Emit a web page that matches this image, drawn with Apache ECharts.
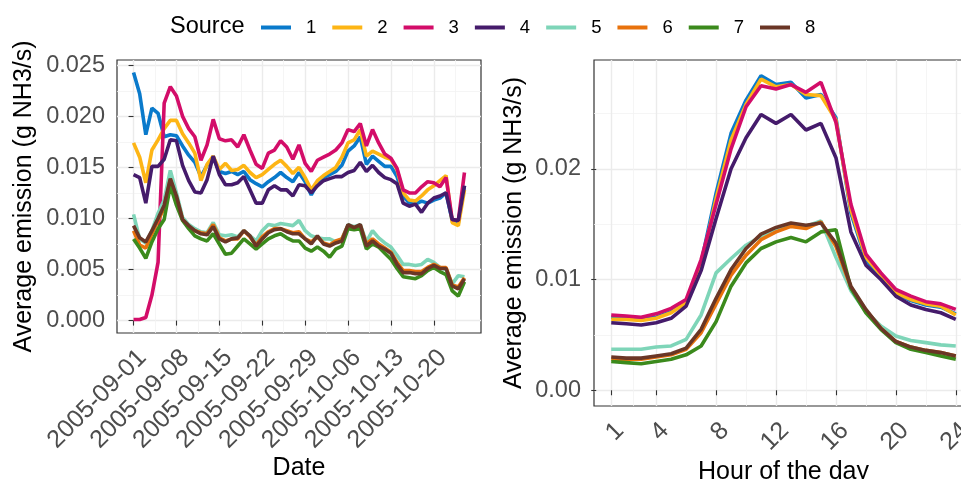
<!DOCTYPE html>
<html>
<head>
<meta charset="utf-8">
<script src="https://cdn.jsdelivr.net/npm/echarts@6/dist/echarts.min.js"></script>
<style>
  html, body { margin: 0; padding: 0; background: #ffffff; overflow: hidden; }
  #chart { width: 961px; height: 479px; }
</style>
</head>
<body>
<div id="chart"></div>
<script>
// ---- categories and tick labels ----
const dates = [
  '2005-09-01','2005-09-02','2005-09-03','2005-09-04','2005-09-05','2005-09-06','2005-09-07',
  '2005-09-08','2005-09-09','2005-09-10','2005-09-11','2005-09-12','2005-09-13','2005-09-14',
  '2005-09-15','2005-09-16','2005-09-17','2005-09-18','2005-09-19','2005-09-20','2005-09-21',
  '2005-09-22','2005-09-23','2005-09-24','2005-09-25','2005-09-26','2005-09-27','2005-09-28',
  '2005-09-29','2005-09-30','2005-10-01','2005-10-02','2005-10-03','2005-10-04','2005-10-05',
  '2005-10-06','2005-10-07','2005-10-08','2005-10-09','2005-10-10','2005-10-11','2005-10-12',
  '2005-10-13','2005-10-14','2005-10-15','2005-10-16','2005-10-17','2005-10-18','2005-10-19',
  '2005-10-20','2005-10-21','2005-10-22','2005-10-23','2005-10-24','2005-10-25'
];
const dateTicks = ['2005-09-01','2005-09-08','2005-09-15','2005-09-22','2005-09-29','2005-10-06','2005-10-13','2005-10-20'];
const dailyTicks = [0, 0.005, 0.010, 0.015, 0.020, 0.025];

const hours = [1,2,3,4,5,6,7,8,9,10,11,12,13,14,15,16,17,18,19,20,21,22,23,24];
const hourTicks = [1, 4, 8, 12, 16, 20, 24];
const hourlyTicks = [0, 0.01, 0.02];

const sources = ['1','2','3','4','5','6','7','8'];
const sourceColors = ['#0A7ACB','#FDB515','#D30D69','#451B6B','#7ED5B8','#E8720C','#3B8A1C','#6A3626'];

// ---- daily average emission (g NH3/s), one value per date ----
const daily1 = [0.0243,0.0222,0.0182,0.0208,0.0203,0.0180,0.0182,0.0181,0.0171,0.0162,0.0155,0.0141,0.0152,0.0160,
  0.0146,0.0144,0.0146,0.0143,0.0146,0.0138,0.0134,0.0131,0.0136,0.0140,0.0145,0.0140,0.0136,0.0145,
  0.0136,0.0123,0.0134,0.0140,0.0143,0.0146,0.0152,0.0166,0.0171,0.0180,0.0153,0.0161,0.0156,0.0151,
  0.0151,0.0141,0.0122,0.0115,0.0114,0.0117,0.0115,0.0118,0.0120,0.0125,0.0098,0.0096,0.0132];
const daily2 = [0.0174,0.0160,0.0135,0.0167,0.0177,0.0188,0.0196,0.0196,0.0183,0.0174,0.0164,0.0137,0.0153,0.0161,
  0.0148,0.0154,0.0147,0.0148,0.0152,0.0145,0.0140,0.0143,0.0148,0.0153,0.0157,0.0151,0.0144,0.0150,
  0.0140,0.0128,0.0137,0.0142,0.0146,0.0150,0.0160,0.0174,0.0177,0.0187,0.0161,0.0166,0.0163,0.0160,
  0.0158,0.0148,0.0125,0.0118,0.0117,0.0122,0.0128,0.0132,0.0137,0.0142,0.0096,0.0093,0.0128];
const daily3 = [0.0001,0.0001,0.0003,0.0025,0.0057,0.0213,0.0229,0.0220,0.0200,0.0188,0.0180,0.0157,0.0172,0.0197,
  0.0178,0.0176,0.0177,0.0170,0.0182,0.0167,0.0153,0.0149,0.0164,0.0167,0.0176,0.0170,0.0158,0.0172,
  0.0154,0.0146,0.0157,0.0160,0.0163,0.0167,0.0174,0.0187,0.0185,0.0193,0.0171,0.0187,0.0174,0.0163,
  0.0159,0.0149,0.0128,0.0125,0.0125,0.0131,0.0136,0.0135,0.0131,0.0140,0.0099,0.0098,0.0145];
const daily4 = [0.0143,0.0140,0.0115,0.0151,0.0151,0.0158,0.0177,0.0176,0.0152,0.0137,0.0126,0.0125,0.0138,0.0161,
  0.0143,0.0133,0.0133,0.0135,0.0141,0.0128,0.0115,0.0115,0.0128,0.0132,0.0128,0.0128,0.0122,0.0133,
  0.0132,0.0125,0.0132,0.0137,0.0139,0.0141,0.0141,0.0145,0.0147,0.0155,0.0146,0.0152,0.0145,0.0140,
  0.0138,0.0134,0.0115,0.0112,0.0114,0.0106,0.0115,0.0120,0.0122,0.0125,0.0099,0.0098,0.0132];
const daily5 = [0.0104,0.0080,0.0076,0.0088,0.0105,0.0118,0.0147,0.0125,0.0101,0.0094,0.0090,0.0087,0.0086,0.0096,
  0.0084,0.0083,0.0084,0.0082,0.0088,0.0083,0.0078,0.0088,0.0094,0.0093,0.0095,0.0094,0.0093,0.0098,
  0.0088,0.0083,0.0081,0.0080,0.0080,0.0077,0.0080,0.0094,0.0092,0.0094,0.0077,0.0088,0.0081,0.0076,
  0.0072,0.0064,0.0055,0.0055,0.0054,0.0055,0.0060,0.0057,0.0052,0.0050,0.0036,0.0044,0.0043];
const daily6 = [0.0088,0.0074,0.0071,0.0085,0.0098,0.0110,0.0138,0.0120,0.0099,0.0092,0.0088,0.0086,0.0085,0.0094,
  0.0081,0.0078,0.0080,0.0080,0.0088,0.0082,0.0074,0.0082,0.0087,0.0090,0.0090,0.0088,0.0086,0.0087,
  0.0080,0.0077,0.0082,0.0076,0.0074,0.0078,0.0080,0.0093,0.0091,0.0093,0.0075,0.0080,0.0075,0.0071,
  0.0067,0.0057,0.0049,0.0049,0.0048,0.0048,0.0052,0.0055,0.0052,0.0052,0.0035,0.0033,0.0042];
const daily7 = [0.0080,0.0071,0.0061,0.0077,0.0090,0.0099,0.0132,0.0113,0.0098,0.0090,0.0083,0.0080,0.0078,0.0085,
  0.0075,0.0065,0.0066,0.0073,0.0080,0.0075,0.0070,0.0075,0.0080,0.0083,0.0085,0.0081,0.0078,0.0078,
  0.0071,0.0068,0.0072,0.0068,0.0062,0.0070,0.0073,0.0090,0.0089,0.0090,0.0070,0.0075,0.0072,0.0066,
  0.0060,0.0051,0.0043,0.0042,0.0041,0.0044,0.0049,0.0052,0.0048,0.0045,0.0029,0.0024,0.0038];
const daily8 = [0.0093,0.0081,0.0077,0.0088,0.0100,0.0113,0.0139,0.0122,0.0099,0.0093,0.0088,0.0085,0.0084,0.0092,
  0.0080,0.0077,0.0080,0.0081,0.0088,0.0083,0.0073,0.0080,0.0086,0.0089,0.0090,0.0087,0.0085,0.0085,
  0.0080,0.0075,0.0083,0.0075,0.0073,0.0076,0.0078,0.0094,0.0091,0.0094,0.0073,0.0078,0.0073,0.0070,
  0.0066,0.0055,0.0047,0.0047,0.0046,0.0046,0.0051,0.0054,0.0051,0.0051,0.0034,0.0031,0.0041];

// ---- hourly average emission (g NH3/s), one value per hour ----
const hourly1 = [0.0066,0.0065,0.0064,0.0066,0.0071,0.0079,0.0115,0.0178,0.0232,0.0262,0.0284,0.0276,
  0.0278,0.0264,0.0267,0.0246,0.0160,0.0118,0.0102,0.0088,0.0081,0.0077,0.0075,0.0069];
const hourly2 = [0.0064,0.0064,0.0063,0.0065,0.0070,0.0079,0.0112,0.0173,0.0226,0.0258,0.0281,0.0274,
  0.0276,0.0267,0.0266,0.0244,0.0163,0.0120,0.0104,0.0088,0.0082,0.0078,0.0076,0.0068];
const hourly3 = [0.0068,0.0067,0.0066,0.0069,0.0074,0.0082,0.0118,0.0168,0.0218,0.0256,0.0275,0.0272,
  0.0276,0.0269,0.0278,0.0242,0.0168,0.0123,0.0106,0.0091,0.0085,0.0080,0.0078,0.0073];
const hourly4 = [0.0061,0.0060,0.0059,0.0061,0.0065,0.0076,0.0108,0.0155,0.0200,0.0228,0.0249,0.0241,
  0.0249,0.0235,0.0241,0.0210,0.0143,0.0113,0.0100,0.0085,0.0077,0.0073,0.0070,0.0064];
const hourly5 = [0.0037,0.0037,0.0037,0.0039,0.0040,0.0046,0.0068,0.0106,0.0119,0.0131,0.0139,0.0145,
  0.0150,0.0148,0.0153,0.0120,0.0090,0.0071,0.0058,0.0049,0.0045,0.0043,0.0041,0.0040];
const hourly6 = [0.0028,0.0028,0.0028,0.0030,0.0032,0.0037,0.0052,0.0078,0.0104,0.0122,0.0136,0.0143,
  0.0148,0.0146,0.0152,0.0130,0.0093,0.0072,0.0056,0.0044,0.0039,0.0036,0.0034,0.0031];
const hourly7 = [0.0026,0.0025,0.0024,0.0026,0.0028,0.0032,0.0040,0.0062,0.0094,0.0115,0.0128,0.0134,
  0.0138,0.0134,0.0143,0.0145,0.0092,0.0070,0.0055,0.0043,0.0037,0.0034,0.0031,0.0028];
const hourly8 = [0.0030,0.0029,0.0029,0.0031,0.0033,0.0038,0.0055,0.0083,0.0109,0.0128,0.0141,0.0147,
  0.0151,0.0149,0.0151,0.0133,0.0094,0.0073,0.0056,0.0044,0.0039,0.0036,0.0034,0.0031];

const dailyBySource = [daily1, daily2, daily3, daily4, daily5, daily6, daily7, daily8];
const hourlyBySource = [hourly1, hourly2, hourly3, hourly4, hourly5, hourly6, hourly7, hourly8];

// ---- helpers ----
// minor grid positions: midpoints between major breaks, plus one step beyond each end
function minorBreaks(major, lo, hi) {
  const out = [];
  for (let i = 0; i < major.length - 1; i++) out.push((major[i] + major[i + 1]) / 2);
  const first = major[0] - (major[1] - major[0]) / 2;
  const last = major[major.length - 1] + (major[major.length - 1] - major[major.length - 2]) / 2;
  if (first >= lo) out.unshift(first);
  if (last <= hi) out.push(last);
  return out;
}
// ggplot-like 5% expansion of a continuous range
function expand(lo, hi) { const d = (hi - lo) * 0.05; return [lo - d, hi + d]; }

const dayTickIdx = dateTicks.map(d => dates.indexOf(d));
const dayRange = expand(0, dates.length - 1);
const dailyRange = expand(0, Math.max(...dailyBySource.flat()));
const hourRange = expand(hours[0], hours[hours.length - 1]);
const hourlyRange = expand(0, Math.max(...hourlyBySource.flat()));

const FONT = 'Liberation Sans, Arial, sans-serif';
const GRID_MAJOR = { color: '#EBEBEB', width: 1.4 };
const GRID_MINOR = { color: '#F2F2F2', width: 0.8 };
const tickLine = { color: '#333333', width: 1.1 };
const yTickText = { color: '#4D4D4D', fontFamily: FONT, fontSize: 23.5 };
const xTickText = { color: '#4D4D4D', fontFamily: FONT, fontSize: 25 };
const titleText = { color: '#000000', fontFamily: FONT, fontSize: 25 };

function majorX(grid, range, ticks, fmt, name, gap) {
  return {
    type: 'value', gridIndex: grid, min: range[0], max: range[1],
    axisLine: { show: false },
    axisTick: { show: true, length: 5, lineStyle: tickLine, customValues: ticks },
    axisLabel: {
      show: true, rotate: 45, margin: 12, align: 'right', verticalAlign: 'top',
      customValues: ticks, formatter: fmt, ...xTickText
    },
    splitLine: { show: true, lineStyle: GRID_MAJOR },
    name: name, nameLocation: 'middle', nameGap: gap, nameMoveOverlap: false,
    nameTextStyle: titleText
  };
}
function minorAxis(kind, grid, range, vals) {
  return {
    type: 'value', gridIndex: grid, min: range[0], max: range[1],
    position: kind === 'x' ? 'bottom' : 'left',
    axisLine: { show: false },
    axisTick: { show: false, customValues: vals },
    axisLabel: { show: false, customValues: vals },
    splitLine: { show: true, lineStyle: GRID_MINOR }
  };
}
function majorY(grid, range, ticks, fmt, margin, gap) {
  return {
    type: 'value', gridIndex: grid, min: range[0], max: range[1],
    axisLine: { show: false },
    axisTick: { show: true, length: 5, lineStyle: tickLine, customValues: ticks },
    axisLabel: { show: true, margin: margin, customValues: ticks, formatter: fmt, ...yTickText },
    splitLine: { show: true, lineStyle: GRID_MAJOR },
    name: 'Average emission (g NH3/s)', nameLocation: 'middle', nameRotate: 90,
    nameGap: gap, nameTextStyle: titleText
  };
}

const series = [];
sources.forEach((s, i) => {
  series.push({
    name: s, type: 'line', xAxisIndex: 0, yAxisIndex: 0,
    data: dates.map((d, k) => [k, dailyBySource[i][k]]),
    showSymbol: false, symbol: 'none', lineStyle: { width: 3.6, color: sourceColors[i] },
    itemStyle: { color: sourceColors[i] }, animation: false
  });
  series.push({
    name: s, type: 'line', xAxisIndex: 2, yAxisIndex: 2,
    data: hours.map((h, k) => [h, hourlyBySource[i][k]]),
    showSymbol: false, symbol: 'none', lineStyle: { width: 3.6, color: sourceColors[i] },
    itemStyle: { color: sourceColors[i] }, animation: false
  });
});

const chart = echarts.init(document.getElementById('chart'), null, { renderer: 'canvas' });
chart.setOption({
  backgroundColor: '#ffffff',
  animation: false,
  title: {
    text: 'Source', left: 170, top: 15, padding: 0,
    textStyle: { color: '#000000', fontFamily: FONT, fontSize: 23.5, fontWeight: 'normal' }
  },
  legend: {
    data: sources, left: 261, top: 18, padding: 0, icon: 'rect', itemWidth: 30, itemHeight: 4, itemGap: 16,
    textStyle: { color: '#000000', fontFamily: FONT, fontSize: 18.5, padding: [0, 0, 0, 10] },
    selectedMode: false
  },
  grid: [
    { left: 117, top: 60, width: 364, height: 273, outerBoundsMode: 'none',
      show: true, borderColor: '#333333', borderWidth: 1.2, backgroundColor: '#ffffff' },
    { left: 594, top: 60, width: 379, height: 346, outerBoundsMode: 'none',
      show: true, borderColor: '#333333', borderWidth: 1.2, backgroundColor: '#ffffff' }
  ],
  xAxis: [
    majorX(0, dayRange, dayTickIdx, v => dates[Math.round(v)], 'Date', 123),
    minorAxis('x', 0, dayRange, minorBreaks(dayTickIdx, dayRange[0], dayRange[1])),
    majorX(1, hourRange, hourTicks, v => String(v), 'Hour of the day', 54),
    minorAxis('x', 1, hourRange, minorBreaks(hourTicks, hourRange[0], hourRange[1]))
  ],
  yAxis: [
    majorY(0, dailyRange, dailyTicks, v => v.toFixed(3), 12, 80),
    minorAxis('y', 0, dailyRange, minorBreaks(dailyTicks, dailyRange[0], dailyRange[1])),
    majorY(1, hourlyRange, hourlyTicks, v => v.toFixed(2), 13, 67),
    minorAxis('y', 1, hourlyRange, minorBreaks(hourlyTicks, hourlyRange[0], hourlyRange[1]))
  ],
  series: series
});
</script>
</body>
</html>
